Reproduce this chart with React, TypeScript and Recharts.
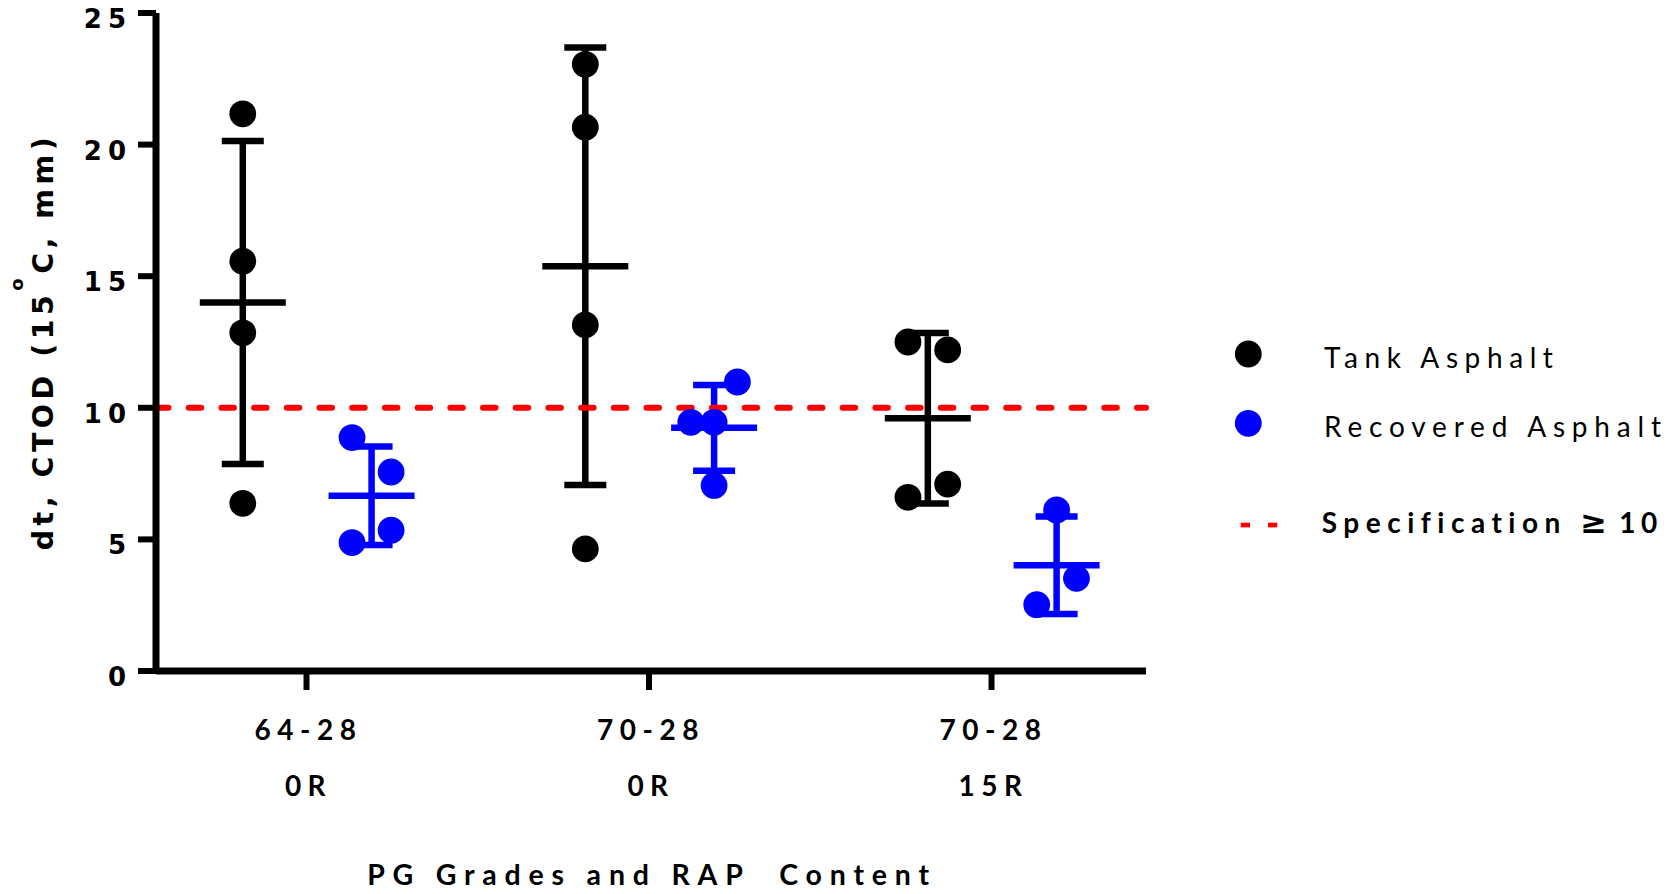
import React from 'react';
import { ScatterChart, Scatter, XAxis, YAxis, ErrorBar, ReferenceLine, Legend } from 'recharts';

// ---------- data ----------
const catLine1 = ['64-28', '70-28', '70-28'];
const catLine2 = ['0R', '0R', '15R'];
const catPos = [0, 1, 2];
const yTicks = [0, 5, 10, 15, 20, 25];
const seriesNames = ['Tank Asphalt', 'Recovered Asphalt'];
const specText = 'Specification ';
const specSymbol = '\u2265';
const specValue = 10;
const xTitle = 'PG Grades and RAP  Content';

// individual replicates
const tankGroup = [0, 0, 0, 0, 1, 1, 1, 1, 2, 2, 2, 2];
const tankValue = [21.17, 15.57, 12.85, 6.37, 23.05, 20.66, 13.15, 4.64, 12.5, 12.2, 7.1, 6.6];
const tankJitter = [0, 0, 0, 0, 0, 0, 0, 0, -0.058, 0.058, 0.058, -0.058];
const tankMean = [14.0, 15.38, 9.6];
const tankSD = [6.14, 8.31, 3.24];

const recGroup = [0, 0, 0, 0, 1, 1, 1, 1, 2, 2, 2];
const recValue = [8.87, 7.56, 5.35, 4.88, 10.98, 9.45, 9.45, 7.05, 6.12, 3.52, 2.52];
const recJitter = [-0.057, 0.057, 0.057, -0.057, 0.068, -0.068, 0, 0, 0, 0.058, -0.058];
const recMean = [6.66, 9.24, 4.02];
const recSD = [1.87, 1.63, 1.85];

// ---------- layout / style ----------
const TANK_OFFSET = -0.186;
const REC_OFFSET = 0.19;
const BLACK = '#000000';
const BLUE = '#0000ff';
const RED = '#ff0000';
const LABEL_FONT = 'Lato, "Open Sans", sans-serif';
const NUM_FONT = '"DejaVu Sans", Verdana, sans-serif';

const tankPoints = tankValue.map((v, i) => ({ x: catPos[tankGroup[i]] + TANK_OFFSET + tankJitter[i], y: v }));
const recPoints = recValue.map((v, i) => ({ x: catPos[recGroup[i]] + REC_OFFSET + recJitter[i], y: v }));
const tankMeans = tankMean.map((m, i) => ({ x: catPos[i] + TANK_OFFSET, y: m, sd: tankSD[i] }));
const recMeans = recMean.map((m, i) => ({ x: catPos[i] + REC_OFFSET, y: m, sd: recSD[i] }));

const dotShape = (color: string) => (p: any) => (
  <circle cx={p.cx} cy={p.cy} r={13.4} fill={color} />
);
const meanShape = (color: string) => (p: any) => (
  <line x1={p.cx - 43} x2={p.cx + 43} y1={p.cy} y2={p.cy} stroke={color} strokeWidth={6.5} />
);

const XTick = (props: any) => {
  const { x, y, payload } = props;
  const i = catPos.indexOf(payload.value);
  const style = { fontFamily: LABEL_FONT, fontWeight: 700, fontSize: 28, letterSpacing: 6.5 } as any;
  return (
    <g>
      <text x={x + 2} y={y + 48} textAnchor="middle" fill={BLACK} style={style}>{catLine1[i]}</text>
      <text x={x + 2} y={y + 104} textAnchor="middle" fill={BLACK} style={style}>{catLine2[i]}</text>
    </g>
  );
};

const YTick = (props: any) => {
  const { x, y, payload } = props;
  return (
    <text x={x} y={y + 15} textAnchor="end" fill={BLACK}
      style={{ fontFamily: NUM_FONT, fontWeight: 700, fontSize: 26, letterSpacing: 6 } as any}>
      {payload.value}
    </text>
  );
};

const YLabel = (props: any) => {
  const vb = props.viewBox || { x: 0, y: 13, width: 156, height: 658 };
  const cx = 53;
  const cy = vb.y + vb.height / 2 - 0.5;
  return (
    <text x={cx} y={cy} transform={`rotate(-90, ${cx}, ${cy})`} textAnchor="middle" fill={BLACK}
      style={{ fontFamily: NUM_FONT, fontWeight: 700, fontSize: 28.5, letterSpacing: 4.5 } as any}>
      <tspan>dt, CTOD (15</tspan>
      <tspan dy={-30} style={{ fontSize: 18 } as any}>o</tspan>
      <tspan dy={30}>C, mm)</tspan>
    </text>
  );
};

const XLabel = (props: any) => {
  const vb = props.viewBox || { x: 156, y: 671, width: 990, height: 223 };
  const cx = vb.x + vb.width / 2 + 1;
  return (
    <text x={cx} y={885} textAnchor="middle" fill={BLACK}
      style={{ fontFamily: LABEL_FONT, fontWeight: 700, fontSize: 28.5, letterSpacing: 7.8, whiteSpace: 'pre' } as any}>
      {xTitle}
    </text>
  );
};

const LegendContent = () => (
  <svg width={452} height={240} style={{ display: 'block' }}>
    <circle cx={28.3} cy={34} r={13.4} fill={BLACK} />
    <text x={104} y={48.3} fill={BLACK}
      style={{ fontFamily: LABEL_FONT, fontWeight: 400, fontSize: 28, letterSpacing: 6.6 } as any}>{seriesNames[0]}</text>
    <circle cx={28.3} cy={103.3} r={13.4} fill={BLUE} />
    <text x={104} y={117.3} fill={BLACK}
      style={{ fontFamily: LABEL_FONT, fontWeight: 400, fontSize: 28, letterSpacing: 6.8 } as any}>{seriesNames[1]}</text>
    <rect x={20.7} y={202.7} width={9.3} height={4.7} fill={RED} />
    <rect x={48} y={202.7} width={9.3} height={4.7} fill={RED} />
    <text x={101.7} y={213.3} fill={BLACK}
      style={{ fontFamily: LABEL_FONT, fontWeight: 700, fontSize: 28, letterSpacing: 6.5, whiteSpace: 'pre' } as any}>
      <tspan>{specText}</tspan>
      <tspan style={{ fontFamily: NUM_FONT, fontWeight: 900, fontSize: 32, letterSpacing: 0 } as any}>{specSymbol}</tspan>
      <tspan style={{ letterSpacing: 5.5 } as any}>{' ' + String(specValue)}</tspan>
    </text>
  </svg>
);

export default function App() {
  return (
    <div style={{ position: 'absolute', left: 0, top: 0, width: 1672, height: 894, background: '#fff' }}>
      <ScatterChart width={1672} height={894} margin={{ top: 13, right: 526, bottom: 0, left: 0 }}>
        <XAxis
          type="number"
          dataKey="x"
          domain={[-0.4394, 2.451]}
          ticks={catPos}
          allowDataOverflow
          height={223}
          tickSize={19}
          axisLine={{ stroke: BLACK, strokeWidth: 7 }}
          tickLine={{ stroke: BLACK, strokeWidth: 6 }}
          tick={<XTick />}
          label={{ content: <XLabel /> } as any}
        />
        <YAxis
          type="number"
          dataKey="y"
          domain={[0, 25]}
          ticks={yTicks}
          allowDataOverflow
          width={156}
          tickSize={18}
          tickMargin={6}
          axisLine={{ stroke: BLACK, strokeWidth: 7 }}
          tickLine={{ stroke: BLACK, strokeWidth: 6 }}
          tick={<YTick />}
          label={{ content: <YLabel /> } as any}
        />
        <Scatter name="tankMean" data={tankMeans} shape={meanShape(BLACK)} isAnimationActive={false} legendType="none">
          <ErrorBar dataKey="sd" direction="y" width={21} strokeWidth={6.5} stroke={BLACK} isAnimationActive={false} />
        </Scatter>
        <Scatter name="recMean" data={recMeans} shape={meanShape(BLUE)} isAnimationActive={false} legendType="none">
          <ErrorBar dataKey="sd" direction="y" width={21} strokeWidth={6.5} stroke={BLUE} isAnimationActive={false} />
        </Scatter>
        <Scatter name={seriesNames[0]} data={tankPoints} shape={dotShape(BLACK)} isAnimationActive={false} />
        <Scatter name={seriesNames[1]} data={recPoints} shape={dotShape(BLUE)} isAnimationActive={false} />
        <ReferenceLine y={specValue} stroke={RED} strokeWidth={6} strokeDasharray="12.5 20.2" strokeLinecap="round" />
        <Legend
          layout="vertical"
          align="center"
          verticalAlign="middle"
          content={<LegendContent />}
          wrapperStyle={{ left: 1220, top: 320, width: 452, height: 240 }}
        />
      </ScatterChart>
    </div>
  );
}
